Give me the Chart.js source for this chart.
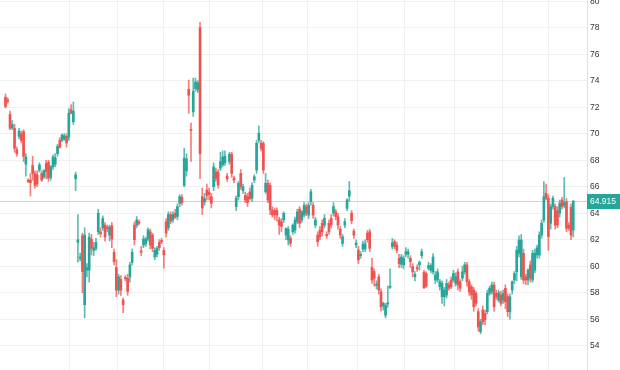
<!DOCTYPE html>
<html>
<head>
<meta charset="utf-8">
<script src="https://cdn.jsdelivr.net/npm/chart.js@4/dist/chart.umd.min.js"></script>
<style>
  html, body { margin: 0; padding: 0; background: #fff; }
  canvas { display: block; }
</style>
</head>
<body>
<canvas id="myChart" width="620" height="370"></canvas>
<script>
// daily candles, oldest first
const opens = [
  72.75, 72.55, 71.45, 70.45, 70.4, 68.8, 69.8, 70.0, 70.15, 67.7,
  66.5, 66.5, 67.6, 67.0, 66.9, 67.25, 67.0, 66.75, 67.75, 67.85,
  66.7, 67.5, 67.7, 68.5, 69.5, 69.5, 69.6, 69.8, 69.75, 71.8,
  70.9, 66.6, 61.8, 60.6, 62.3, 57.1, 59.7, 59.7, 62.05, 61.2,
  61.35, 62.6, 62.6, 62.9, 63.1, 62.95, 62.35, 63.05, 61.05, 59.9,
  58.2, 59.0, 57.45, 59.15, 59.1, 59.2, 60.3, 63.1, 63.1, 63.35,
  61.15, 61.6, 61.7, 62.05, 62.6, 62.35, 60.7, 60.9, 61.8, 61.95,
  61.2, 63.35, 62.9, 63.9, 63.5, 64.0, 63.75, 64.75, 65.2, 66.1,
  67.2, 73.35, 70.3, 71.65, 73.4, 73.3, 78.0, 65.25, 64.85, 65.75,
  65.6, 65.25, 66.0, 67.13, 67.1, 67.4, 67.65, 67.8, 66.8, 67.9,
  68.45, 66.65, 64.5, 65.25, 67.0, 65.7, 65.35, 65.25, 65.6, 65.13,
  66.5, 67.26, 69.52, 69.28, 69.28, 65.62, 66.26, 66.1, 64.24, 64.2,
  64.2, 63.5, 63.35, 63.5, 62.35, 61.98, 62.1, 62.6, 62.73, 63.36,
  64.3, 63.5, 63.86, 64.5, 63.86, 64.87, 64.6, 63.1, 62.35, 62.73,
  63.24, 63.1, 62.4, 63.24, 63.62, 64.0, 64.1, 63.74, 62.8, 61.72,
  63.1, 64.37, 65.3, 64.0, 62.65, 61.6, 61.22, 60.8, 61.3, 61.3,
  62.5, 62.6, 59.9, 59.6, 58.55, 59.2, 58.07, 57.0, 56.3, 57.15,
  58.4, 61.47, 61.85, 61.6, 60.6, 60.15, 60.1, 60.9, 60.9, 60.6,
  59.96, 59.2, 59.9, 60.1, 60.8, 59.54, 59.45, 59.85, 59.7, 59.58,
  58.96, 58.96, 58.45, 57.7, 57.7, 57.83, 58.6, 58.96, 58.96, 58.7,
  59.58, 58.83, 59.1, 59.58, 60.1, 58.83, 58.45, 58.2, 57.95, 56.57,
  55.06, 56.7, 56.45, 56.57, 57.95, 58.1, 58.58, 57.95, 57.45, 57.83,
  57.45, 58.33, 57.7, 56.57, 58.2, 58.96, 59.58, 60.97, 59.2, 60.97,
  59.2, 58.96, 60.1, 58.96, 59.7, 60.85, 60.85, 62.35, 63.49, 65.5,
  65.13, 63.24, 64.5, 64.5, 64.2, 64.0, 65.0, 64.6, 64.87, 63.1,
  64.45, 62.73
];
const highs = [
  73.0, 72.7, 71.7, 71.0, 70.7, 69.0, 70.4, 70.2, 70.3, 68.5,
  66.6, 67.0, 68.3, 67.2, 67.2, 67.8, 67.2, 67.3, 68.0, 68.0,
  67.6, 68.4, 68.5, 69.2, 69.7, 70.0, 70.0, 70.0, 71.9, 72.2,
  72.4, 67.1, 63.9, 61.0, 62.5, 62.9, 60.2, 62.5, 62.4, 61.8,
  62.1, 64.3, 62.9, 63.8, 63.3, 63.1, 63.1, 63.3, 61.3, 60.5,
  59.4, 59.3, 57.6, 59.3, 59.4, 60.3, 61.3, 63.35, 63.75, 63.5,
  61.5, 62.3, 62.2, 62.9, 62.8, 62.5, 61.4, 61.5, 62.0, 62.1,
  61.4, 63.6, 64.1, 64.1, 64.1, 64.3, 64.7, 65.4, 65.4, 68.9,
  68.5, 74.05, 70.8, 74.2, 74.2, 74.0, 78.4, 65.9, 65.5, 66.2,
  65.9, 65.5, 67.8, 67.4, 67.3, 68.6, 68.7, 68.7, 67.0, 68.6,
  68.6, 66.8, 65.3, 66.4, 67.3, 66.2, 65.6, 65.5, 65.9, 66.3,
  66.9, 69.5, 70.6, 69.5, 69.4, 67.0, 66.5, 66.3, 64.5, 64.4,
  64.4, 63.7, 63.6, 64.1, 62.9, 63.0, 62.3, 63.2, 63.7, 64.3,
  64.5, 64.2, 64.8, 64.7, 64.8, 65.8, 64.8, 63.7, 62.6, 63.0,
  63.5, 63.9, 62.6, 63.5, 63.9, 64.8, 64.3, 64.0, 63.0, 62.4,
  63.6, 65.1, 66.4, 64.2, 62.8, 62.0, 61.5, 61.1, 61.9, 62.0,
  62.7, 62.8, 60.6, 59.8, 58.9, 59.4, 58.3, 57.3, 57.2, 58.5,
  59.8, 62.1, 62.0, 61.8, 60.9, 60.9, 60.8, 61.4, 61.3, 60.8,
  60.2, 59.6, 60.1, 60.4, 61.3, 59.7, 59.6, 60.3, 60.2, 60.95,
  59.6, 59.8, 59.0, 58.9, 58.4, 59.0, 58.8, 59.2, 59.7, 59.5,
  59.8, 59.0, 60.0, 60.3, 60.3, 59.0, 58.6, 58.4, 58.1, 56.8,
  56.0, 57.0, 56.7, 58.2, 58.5, 58.8, 58.8, 58.2, 58.2, 58.1,
  58.2, 58.6, 57.9, 57.9, 58.9, 59.6, 61.5, 62.3, 62.4, 61.3,
  59.4, 59.8, 60.4, 61.2, 61.3, 61.6, 62.6, 63.5, 66.38, 66.2,
  65.4, 64.7, 65.3, 64.7, 64.5, 65.0, 65.2, 66.7, 65.1, 63.3,
  64.7, 64.95
];
const lows = [
  71.95, 72.3, 70.3, 70.3, 68.6, 68.3, 69.6, 69.3, 67.9, 66.8,
  66.3, 65.3, 66.5, 65.9, 66.0, 67.1, 66.4, 66.6, 66.6, 66.4,
  66.5, 67.3, 67.5, 68.3, 68.9, 69.4, 69.5, 69.0, 69.5, 71.5,
  70.7, 65.7, 60.3, 60.4, 58.0, 56.1, 59.2, 58.8, 60.85, 60.8,
  61.2, 62.4, 62.2, 62.7, 61.9, 62.6, 61.9, 61.4, 60.1, 57.7,
  57.9, 57.8, 56.5, 58.9, 57.8, 58.8, 60.1, 61.6, 62.9, 63.1,
  60.8, 61.4, 61.5, 61.9, 61.3, 61.1, 60.5, 60.7, 61.2, 61.7,
  59.85, 62.2, 62.7, 63.2, 63.3, 63.6, 63.5, 64.5, 64.6, 66.0,
  66.8, 71.55, 67.9, 71.3, 73.2, 73.1, 66.6, 63.9, 64.6, 65.0,
  65.0, 64.4, 65.7, 66.4, 65.9, 67.2, 67.5, 67.6, 66.4, 67.7,
  66.7, 66.3, 64.2, 65.0, 65.8, 65.5, 64.8, 64.5, 65.0, 64.9,
  66.3, 67.0, 69.3, 68.7, 67.0, 65.5, 64.8, 63.9, 63.7, 63.5,
  63.4, 62.4, 62.6, 63.3, 62.0, 61.6, 61.5, 62.4, 62.5, 63.2,
  62.9, 63.3, 63.7, 63.8, 63.6, 64.6, 63.6, 62.9, 61.5, 62.0,
  62.3, 62.9, 62.1, 62.4, 62.9, 63.8, 63.5, 62.8, 62.1, 61.5,
  62.9, 64.2, 64.9, 63.2, 62.1, 61.4, 60.2, 60.6, 61.1, 61.1,
  61.8, 61.1, 58.7, 58.5, 58.3, 57.9, 56.6, 56.7, 56.1, 56.9,
  58.3, 61.3, 61.3, 61.0, 59.9, 59.9, 59.8, 60.7, 60.6, 59.9,
  59.2, 58.9, 59.6, 59.7, 60.6, 58.3, 58.4, 59.7, 59.5, 59.4,
  58.7, 58.8, 58.2, 57.2, 57.0, 57.6, 58.2, 58.3, 58.8, 58.5,
  58.2, 58.1, 58.9, 59.4, 58.5, 57.8, 57.5, 56.6, 57.0, 55.1,
  54.9, 55.6, 55.6, 56.4, 57.8, 57.9, 56.6, 57.5, 57.3, 57.0,
  57.2, 56.8, 56.2, 56.0, 57.9, 58.7, 58.9, 60.7, 59.0, 58.7,
  58.6, 58.6, 58.8, 58.8, 59.5, 60.6, 60.6, 62.1, 63.3, 65.0,
  61.2, 62.8, 64.3, 62.8, 62.9, 63.7, 64.3, 64.4, 62.6, 62.7,
  62.0, 62.2
];
const closes = [
  72.05, 72.45, 70.4, 70.7, 68.9, 68.5, 70.2, 69.5, 68.3, 68.25,
  66.4, 66.3, 67.0, 66.1, 66.2, 67.65, 66.5, 67.2, 67.15, 66.65,
  67.5, 68.25, 68.2, 69.05, 69.0, 69.9, 69.85, 69.3, 71.55, 71.55,
  71.7, 66.9, 62.0, 60.7, 59.6, 62.35, 59.9, 62.2, 61.35, 61.4,
  61.8, 64.0, 62.45, 63.6, 62.2, 62.85, 62.95, 62.05, 60.35, 58.2,
  59.2, 58.2, 57.1, 59.05, 58.1, 60.1, 61.05, 62.0, 63.5, 63.25,
  61.05, 62.05, 62.05, 62.75, 61.6, 61.35, 61.2, 61.35, 61.4, 61.85,
  60.85, 62.5, 63.9, 63.4, 63.9, 63.7, 64.5, 65.25, 64.8, 68.15,
  68.1, 72.9, 70.25, 73.2, 73.9, 73.85, 68.5, 64.4, 65.1, 65.35,
  65.4, 64.75, 67.5, 66.63, 66.13, 67.9, 68.25, 68.3, 66.6, 68.45,
  67.0, 66.5, 65.15, 66.25, 66.0, 66.0, 65.0, 64.8, 65.1, 66.1,
  66.75, 69.28, 70.03, 68.9, 67.26, 66.26, 65.0, 64.25, 63.86, 63.9,
  63.86, 63.1, 63.0, 64.0, 62.85, 62.8, 61.73, 63.1, 63.5, 64.1,
  63.24, 64.1, 64.6, 64.0, 64.6, 65.62, 63.86, 63.5, 61.85, 62.23,
  62.6, 63.62, 62.3, 62.6, 63.1, 64.5, 63.74, 63.1, 62.35, 62.23,
  63.36, 65.0, 65.7, 63.44, 62.35, 61.75, 60.47, 60.9, 61.67, 61.7,
  62.0, 61.35, 58.96, 59.1, 58.65, 58.2, 56.94, 57.2, 57.07, 57.25,
  58.5, 61.77, 61.5, 61.2, 60.2, 60.7, 60.6, 61.1, 61.1, 60.35,
  59.58, 59.39, 59.8, 60.3, 61.1, 58.38, 58.5, 60.05, 60.05, 60.7,
  59.33, 59.58, 58.83, 58.7, 58.2, 58.7, 58.35, 58.45, 59.46, 59.2,
  58.58, 58.33, 59.58, 60.1, 58.83, 58.07, 57.83, 56.94, 57.2, 55.43,
  55.81, 55.81, 55.95, 57.95, 58.33, 58.58, 56.94, 57.7, 58.0, 57.2,
  57.95, 57.32, 56.57, 57.7, 58.83, 59.46, 61.22, 61.98, 61.98, 58.96,
  58.96, 59.72, 59.1, 60.97, 61.0, 61.4, 62.35, 63.24, 65.25, 65.13,
  62.23, 64.5, 65.13, 63.1, 63.1, 64.75, 64.5, 64.8, 62.86, 62.86,
  62.35, 64.915
];

// first bar of each month (vertical grid lines)
const monthStarts = [28.5, 49.5, 70, 90, 113.5, 133.5, 155.5, 176.5, 198.5, 219.5, 240];
const priceTicks = [54, 56, 58, 60, 62, 64, 66, 68, 70, 72, 74, 76, 78, 80];
const lastPrice = 64.915;

const UP = '#26a69a';
const DOWN = '#ef5350';
const Y_MIN = 52.17;
const Y_MAX = 80.09;

const isUp = closes.map((c, i) => c >= opens[i]);
const bodyColors = isUp.map(u => (u ? UP : DOWN));
const wickColors = isUp.map(u => (u ? 'rgba(38,166,154,0.75)' : 'rgba(239,83,80,0.75)'));

const wicks = lows.map((lo, i) => ({ x: i, y: [lo, highs[i]] }));
const bodies = opens.map((o, i) => ({ x: i, y: [o, closes[i]] }));

const priceLine = {
  id: 'priceLine',
  beforeDatasetsDraw(chart) {
    const { ctx, chartArea, scales } = chart;
    const py = Math.round(scales.y.getPixelForValue(lastPrice)) + 0.5;
    ctx.save();
    ctx.strokeStyle = 'rgba(38,166,154,0.35)';
    ctx.lineWidth = 1;
    ctx.beginPath();
    ctx.moveTo(chartArea.left, py);
    ctx.lineTo(chartArea.right, py);
    ctx.stroke();
    ctx.restore();
  },
  afterDraw(chart) {
    const { ctx, chartArea, scales } = chart;
    const py = scales.y.getPixelForValue(lastPrice);
    ctx.save();
    ctx.fillStyle = UP;
    ctx.fillRect(chartArea.right, Math.round(py) - 7, chart.width - chartArea.right, 15);
    ctx.fillStyle = '#fff';
    ctx.font = '8.5px "Liberation Sans", Arial, sans-serif';
    ctx.textBaseline = 'middle';
    ctx.fillText(lastPrice.toFixed(3), chartArea.right + 3, Math.round(py) + 0.5);
    ctx.restore();
  }
};

new Chart(document.getElementById('myChart'), {
  type: 'bar',
  data: {
    datasets: [
      {
        data: bodies,
        backgroundColor: bodyColors,
        barThickness: 2,
        minBarLength: 1,
        grouped: false,
        order: 1
      },
      {
        data: wicks,
        backgroundColor: wickColors,
        barThickness: 1,
        grouped: false,
        order: 2
      }
    ]
  },
  plugins: [priceLine],
  options: {
    responsive: false,
    animation: false,
    layout: { padding: 0 },
    plugins: {
      legend: { display: false },
      tooltip: { enabled: false }
    },
    scales: {
      x: {
        type: 'linear',
        offset: false,
        min: -2.43,
        max: 257.07,
        afterBuildTicks: (scale) => {
          scale.ticks = monthStarts.map(v => ({ value: v }))
        },
        afterFit: (scale) => {
          scale.height = 0
          scale.paddingLeft = 0
          scale.paddingRight = 0
        },
        ticks: { display: false },
        grid: { color: '#f0f0f0', drawTicks: false, offset: false },
        border: { display: false }
      },
      y: {
        position: 'right',
        min: Y_MIN,
        max: Y_MAX,
        afterBuildTicks: (scale) => {
          scale.ticks = [Y_MIN, ...priceTicks, Y_MAX].map(v => ({ value: v }))
        },
        afterFit: (scale) => {
          scale.width = 33
          scale.paddingTop = 0
          scale.paddingBottom = 0
        },
        ticks: {
          padding: 3,
          color: '#333',
          font: { family: '"Liberation Sans", Arial, sans-serif', size: 8.5 },
          callback: (v) => (priceTicks.includes(v) ? String(v) : null)
        },
        grid: { color: '#f0f0f0', drawTicks: false },
        border: { display: true, color: '#e0e0e0' }
      }
    }
  }
})
</script>
</body>
</html>
